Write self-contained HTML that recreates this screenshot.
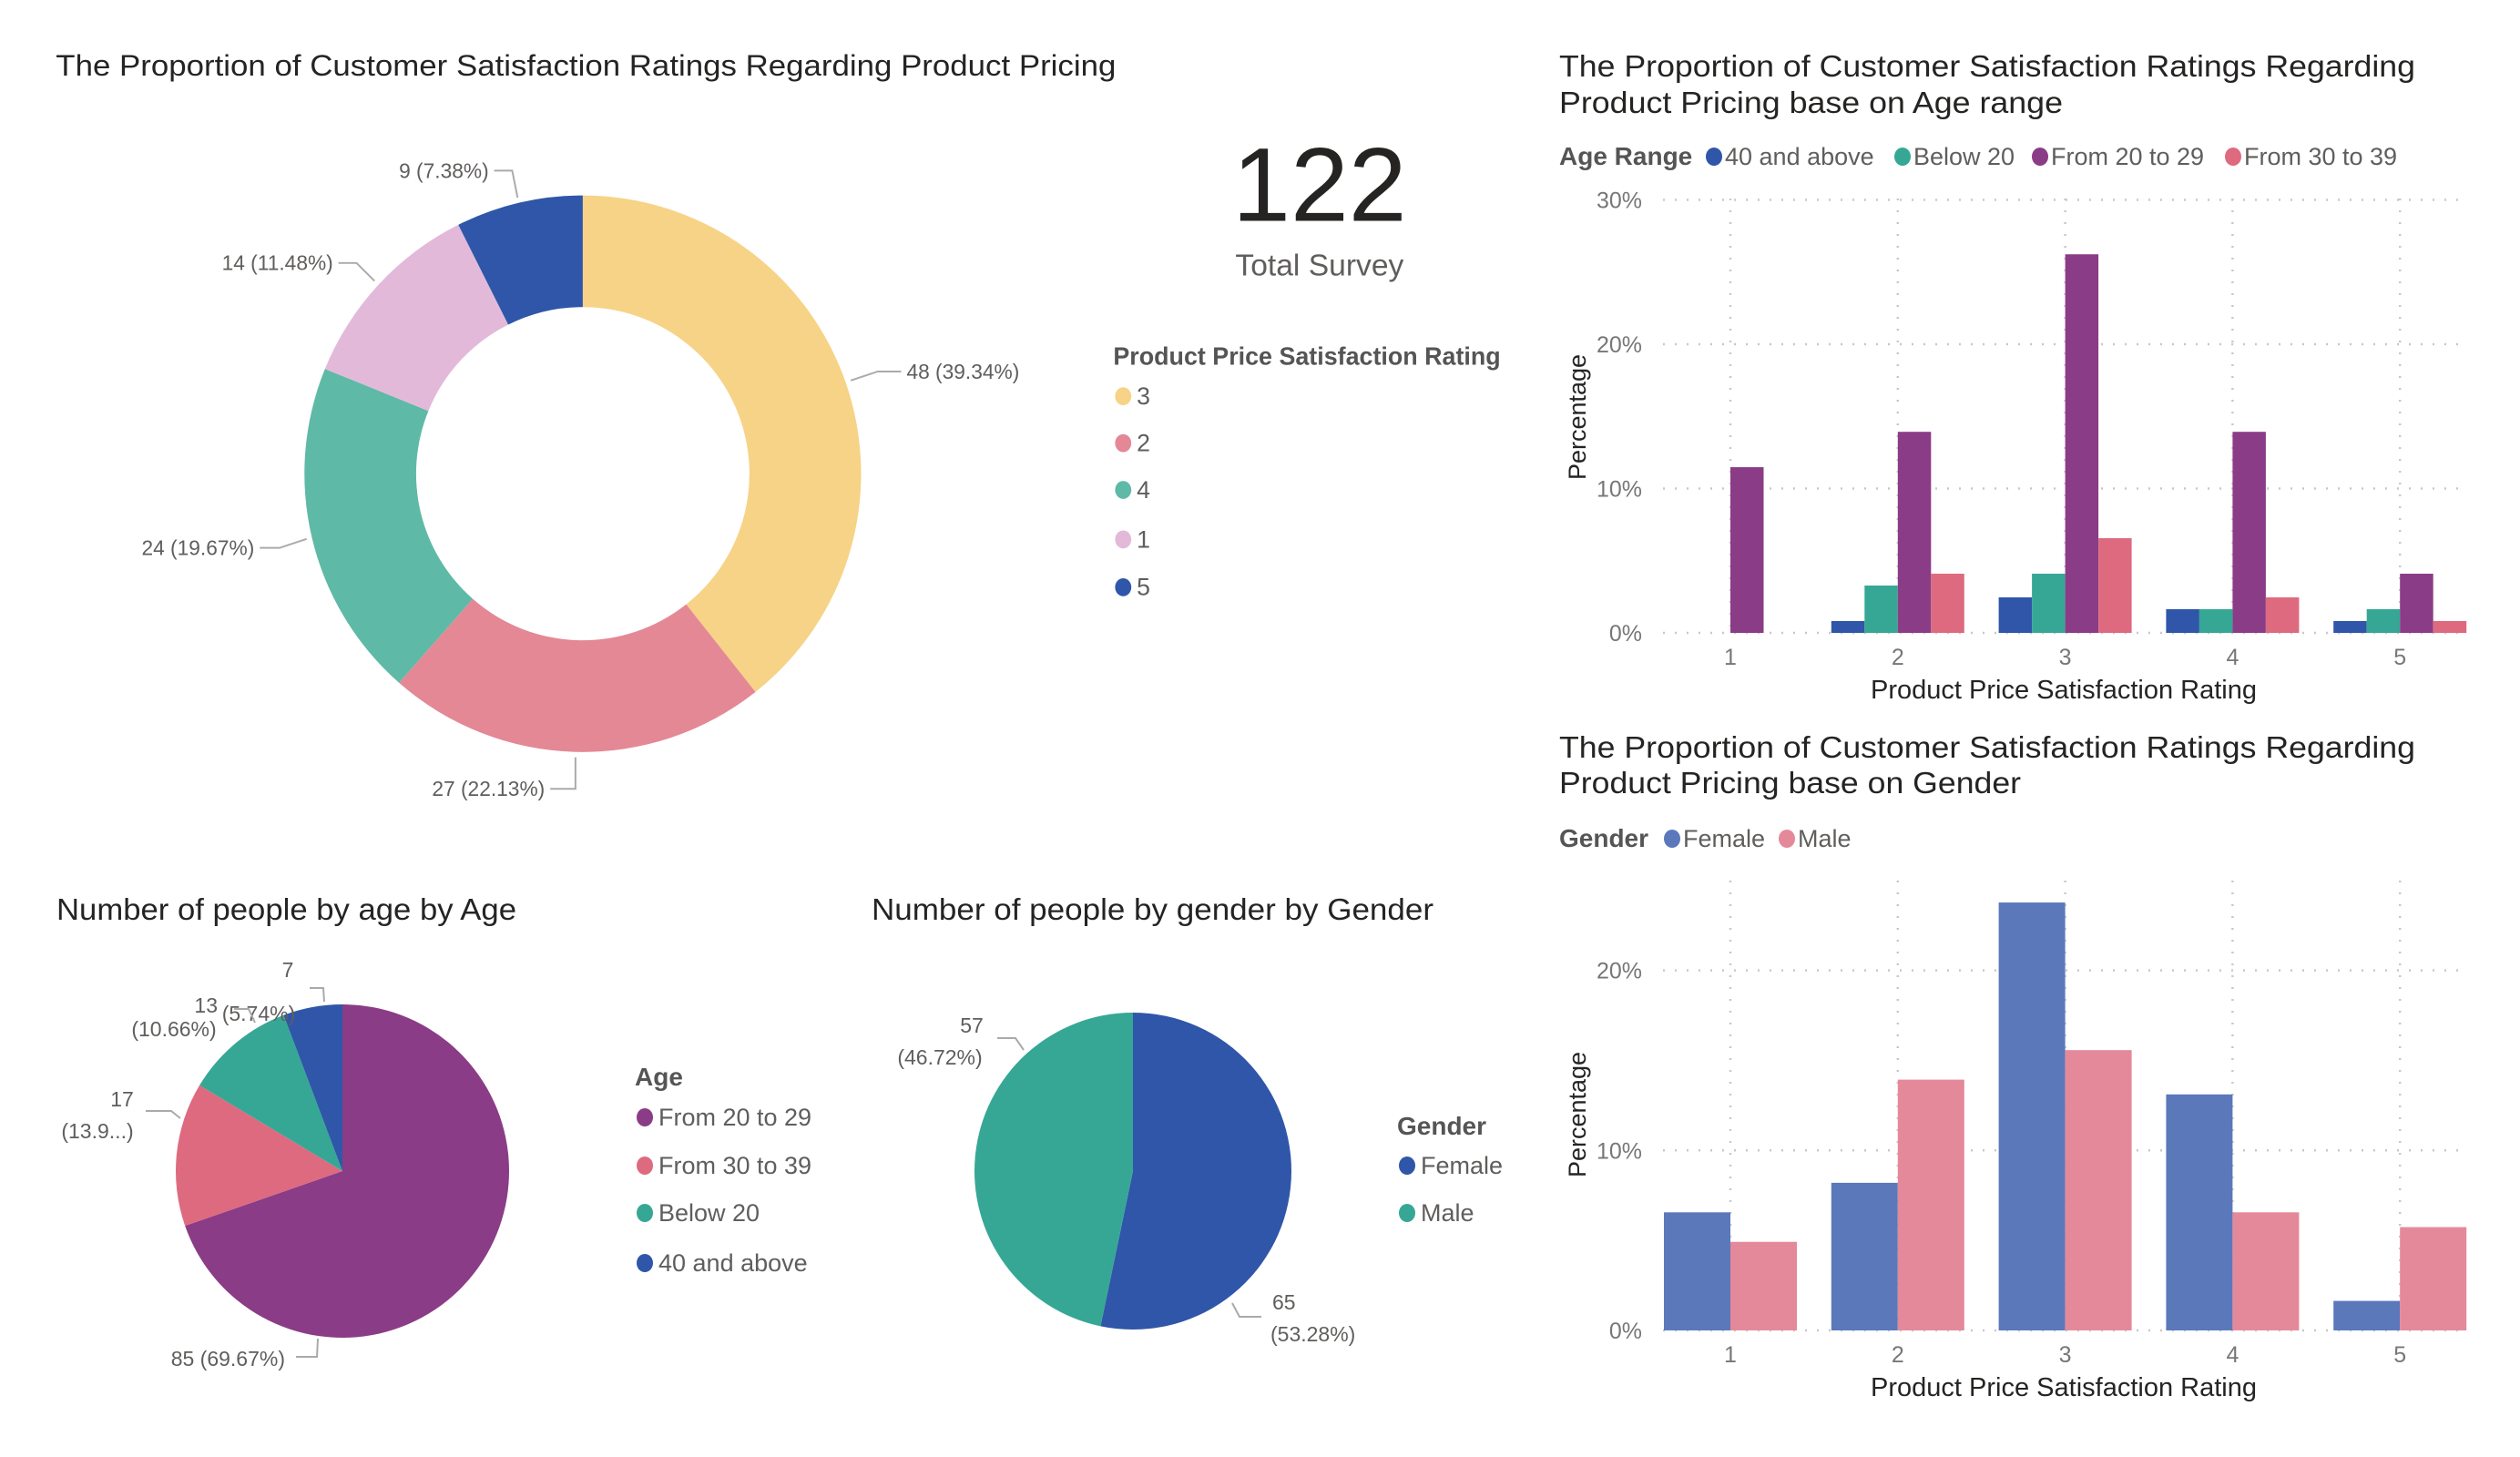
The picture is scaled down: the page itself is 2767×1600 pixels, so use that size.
<!DOCTYPE html>
<html><head><meta charset="utf-8"><style>
html,body{margin:0;padding:0;background:#fff;}
svg{display:block;font-family:"Liberation Sans Narrow","Liberation Sans",sans-serif;}
.ttl{font-size:33px;fill:#252423;}
.lbl{font-size:23px;fill:#605E5C;}
.tick{font-size:25px;fill:#777;}
.leg{font-size:27px;fill:#605E5C;}
.legt{font-size:28px;fill:#555;font-weight:bold;}
</style></head><body>
<svg id="dash" width="2767" height="1600" viewBox="0 0 2767 1600" xmlns="http://www.w3.org/2000/svg">
<g transform="scale(0.989)">
<g id="donut">
<text class="ttl" x="62" y="84" textLength="1177" lengthAdjust="spacingAndGlyphs">The Proportion of Customer Satisfaction Ratings Regarding Product Pricing</text>
</g>
<g>
<text x="1465" y="245" text-anchor="middle" font-size="116" fill="#252423">122</text>
<text x="1465" y="306" text-anchor="middle" font-size="34" fill="#605E5C">Total Survey</text>
</g>
<g id="donutLegend">
<text class="legt" x="1236" y="405" textLength="430" lengthAdjust="spacingAndGlyphs">Product Price Satisfaction Rating</text>
</g>
</g>
<g id="ageBars">
<text class="ttl" x="1712" y="84" textLength="940" lengthAdjust="spacingAndGlyphs">The Proportion of Customer Satisfaction Ratings Regarding</text>
<text class="ttl" x="1712" y="124" textLength="553" lengthAdjust="spacingAndGlyphs">Product Pricing base on Age range</text>
</g>
<g id="genderBars">
<text class="ttl" x="1712" y="832" textLength="940" lengthAdjust="spacingAndGlyphs">The Proportion of Customer Satisfaction Ratings Regarding</text>
<text class="ttl" x="1712" y="871" textLength="507" lengthAdjust="spacingAndGlyphs">Product Pricing base on Gender</text>
</g>
<g id="agePie" transform="translate(-5,0)">
<text class="ttl" x="67" y="1010" textLength="505" lengthAdjust="spacingAndGlyphs">Number of people by age by Age</text>
</g>
<g id="genderPie" transform="translate(-11,0)">
<text class="ttl" x="968" y="1010" textLength="617" lengthAdjust="spacingAndGlyphs">Number of people by gender by Gender</text>
</g>
</svg>
<script>
const NS="http://www.w3.org/2000/svg";
// Donut data
const ratingCats=["3","2","4","1","5"];
const ratingCounts=[48,27,24,14,9];
const ratingColors=["#F6D386","#E48896","#5FB9A7","#E3B9DA","#2F56A8"];
// Age pie data
const ageCats=["From 20 to 29","From 30 to 39","Below 20","40 and above"];
const ageCounts=[85,17,13,7];
const ageColors=["#8B3C86","#DE6A80","#36A795","#2F56A8"];
// Gender pie data
const genderCats=["Female","Male"];
const genderCounts=[65,57];
const genderPieColors=["#2F56A8","#36A795"];
// Age bar data (percent of total)
const barCats=["1","2","3","4","5"];
const ageSeriesNames=["40 and above","Below 20","From 20 to 29","From 30 to 39"];
const age40Vals=[0,0.82,2.46,1.64,0.82];
const ageBelow20Vals=[0,3.28,4.10,1.64,1.64];
const age2029Vals=[11.48,13.93,26.23,13.93,4.10];
const age3039Vals=[0,4.10,6.56,2.46,0.82];
const ageTicks=[0,10,20,30];
// Gender bar data
const femaleVals=[6.56,8.20,23.77,13.11,1.64];
const maleVals=[4.92,13.93,15.57,6.56,5.74];
const genderTicks=[0,10,20];
const genderBarColors=["#5B78BB","#E4899A"];

function mk(tag,attrs,parent,text){const e=document.createElementNS(NS,tag);for(const k in attrs)e.setAttribute(k,attrs[k]);if(text!==undefined)e.textContent=text;parent.appendChild(e);return e;}
function arcPath(cx,cy,r,r0,a0,a1){
  const p=(a,rr)=>[cx+rr*Math.sin(a),cy-rr*Math.cos(a)];
  const large=(a1-a0)>Math.PI?1:0;
  const [x0,y0]=p(a0,r),[x1,y1]=p(a1,r);
  if(r0>0){const [x2,y2]=p(a1,r0),[x3,y3]=p(a0,r0);
    return `M${x0},${y0}A${r},${r} 0 ${large} 1 ${x1},${y1}L${x2},${y2}A${r0},${r0} 0 ${large} 0 ${x3},${y3}Z`;}
  return `M${cx},${cy}L${x0},${y0}A${r},${r} 0 ${large} 1 ${x1},${y1}Z`;
}
function pie(g,cx,cy,r,r0,counts,colors,names,prefix){
  const tot=counts.reduce((a,b)=>a+b,0);let a=0;const mids=[];
  counts.forEach((c,i)=>{const a1=a+c/tot*2*Math.PI;
    const el=mk("path",{d:arcPath(cx,cy,r,r0,a,a1),fill:colors[i]},g);
    
    
    mids.push((a+a1)/2);a=a1;});
  return {mids,tot};
}
function leader(g,pts){const el=mk("polyline",{points:pts.map(p=>p.join(",")).join(" "),fill:"none",stroke:"#AAA","stroke-width":2},g);
  
  }
function label(g,x,y,txt,anchor){const t=mk("text",{class:"lbl",x:x,y:y,"text-anchor":anchor||"start"},g,txt);
  
  return t;}
function pct(c,t){return (c/t*100).toFixed(2)+"%";}

// Donut
(function(){
  const g=document.getElementById("donut");const cx=647,cy=526,R=309,r0=185;
  const {mids,tot}=pie(g,cx,cy,R,r0,ratingCounts,ratingColors,ratingCats,'rating');
  const lab=ratingCounts.map((c,i)=>c+" ("+pct(c,tot)+")");
  const P=(a,rr)=>[cx+rr*Math.sin(a),cy-rr*Math.cos(a)];
  let s=P(mids[0],R+6);leader(g,[s,[s[0]+30,s[1]-10],[s[0]+56,s[1]-10]]);label(g,s[0]+62,s[1]-2,lab[0]);
  s=P(mids[1],R+6);leader(g,[s,[s[0],s[1]+35],[s[0]-28,s[1]+35]]);label(g,s[0]-34,s[1]+43,lab[1],"end");
  s=P(mids[2],R+6);leader(g,[s,[s[0]-30,s[1]+10],[s[0]-52,s[1]+10]]);label(g,s[0]-58,s[1]+18,lab[2],"end");
  s=P(mids[3],R+6);leader(g,[s,[s[0]-20,s[1]-20],[s[0]-40,s[1]-20]]);label(g,s[0]-46,s[1]-12,lab[3],"end");
  s=P(mids[4],R+6);leader(g,[s,[s[0]-6,s[1]-30],[s[0]-26,s[1]-30]]);label(g,s[0]-32,s[1]-22,lab[4],"end");
  const lg=document.getElementById("donutLegend");const ys=[440,492,544,599,652];
  ratingCats.forEach((c,i)=>{const d=mk("ellipse",{cx:1247,cy:ys[i],rx:9,ry:10,fill:ratingColors[i]},lg);
    
    const t=mk("text",{class:"leg",x:1262,y:ys[i]+9},lg,c);
    });
})();

// Bar chart helper
function bars(gid,cfg){
  const g=document.getElementById(gid);
  const y=v=>cfg.y0-(v-0)*cfg.pxPer;
  const xC=i=>cfg.x0+i*cfg.step;
  cfg.ticks.forEach(t=>{const l=mk("line",{x1:1826,x2:2708,y1:y(t),y2:y(t),stroke:"#C8C8C8","stroke-width":2.5,"stroke-dasharray":"2 11"},g);
    
    const tx=mk("text",{class:"tick",x:1803,y:y(t)+9,"text-anchor":"end"},g,t+"%");
    });
  barCats.forEach((c,i)=>{const l=mk("line",{x1:xC(i),x2:xC(i),y1:cfg.top,y2:cfg.y0,stroke:"#C8C8C8","stroke-width":2.5,"stroke-dasharray":"2 11"},g);
    
    const t=mk("text",{class:"tick",x:xC(i),y:cfg.tickY,"text-anchor":"middle"},g,c);
    });
  const n=cfg.series.length,bw=146/n;
  cfg.series.forEach((vals,s)=>{vals.forEach((v,i)=>{if(v<=0)return;
    const r=mk("rect",{x:xC(i)-73+s*bw,y:y(v),width:bw,height:cfg.y0-y(v),fill:cfg.colors[s]},g);
    
    });});
  const xt=mk("text",{x:2266,y:cfg.titleY,"text-anchor":"middle","font-size":29,fill:"#252423"},g,"Product Price Satisfaction Rating");
  
  const yt=mk("text",{x:0,y:0,"text-anchor":"middle","font-size":27,fill:"#252423","font-family":"Liberation Sans, sans-serif",transform:`translate(1741,${cfg.yTitleY}) rotate(-90)`},g,"Percentage");
  
  const lt=mk("text",{class:"legt",x:1712,y:cfg.legY+9},g,cfg.legTitle);
  
  cfg.names.forEach((nm,s)=>{const d=mk("ellipse",{cx:cfg.legX[s],cy:cfg.legY,rx:9,ry:10,fill:cfg.colors[s]},g);
    
    const t=mk("text",{class:"leg",x:cfg.legX[s]+12,y:cfg.legY+9},g,nm);
    });
}
bars("ageBars",{y0:695,pxPer:15.85,top:218,x0:1900,step:183.8,ticks:ageTicks,tickY:730,titleY:767,yTitleY:458,
  series:[age40Vals,ageBelow20Vals,age2029Vals,age3039Vals],colors:["#2F56A8","#36A795","#8B3C86","#DE6A80"],
  names:ageSeriesNames,legTitle:"Age Range",legY:172,legX:[1882,2089,2240,2452]});
bars("genderBars",{y0:1461,pxPer:19.77,top:967,x0:1900,step:183.8,ticks:genderTicks,tickY:1496,titleY:1533,yTitleY:1224,
  series:[femaleVals,maleVals],colors:genderBarColors,names:genderCats,legTitle:"Gender",legY:921,legX:[1836,1962]});

// Age pie
(function(){
  const g=document.getElementById("agePie");const cx=381,cy=1286,R=183;
  const {tot}=pie(g,cx,cy,R,0,ageCounts,ageColors,ageCats,'age');
  leader(g,[[361,1100],[360,1085],[345,1085]]);label(g,321,1073,String(ageCounts[3]),"middle");label(g,289,1121,"("+pct(ageCounts[3],tot)+")","middle");
  leader(g,[[285,1123],[278,1108],[262,1108]]);label(g,244,1112,String(ageCounts[2]),"end");label(g,196,1138,"("+pct(ageCounts[2],tot)+")","middle");
  leader(g,[[203,1228],[193,1220],[165,1220]]);label(g,139,1215,String(ageCounts[1]),"middle");label(g,112,1250,"(13.9...)","middle");
  leader(g,[[354,1470],[353,1490],[330,1490]]);label(g,318,1500,ageCounts[0]+" ("+pct(ageCounts[0],tot)+")","end");
  const ys=[1227,1280,1332,1387];
  const lt=mk("text",{class:"legt",x:702,y:1192},g,"Age");
  ageCats.forEach((c,i)=>{const d=mk("ellipse",{cx:713,cy:ys[i],rx:9,ry:10,fill:ageColors[i]},g);
    
    const t=mk("text",{class:"leg",x:728,y:ys[i]+9},g,c);
    });
})();

// Gender pie
(function(){
  const g=document.getElementById("genderPie");const cx=1255,cy=1286,R=174;
  const {tot}=pie(g,cx,cy,R,0,genderCounts,genderPieColors,genderCats,'gender');
  leader(g,[[1135,1153],[1126,1140],[1106,1140]]);label(g,1078,1134,String(genderCounts[1]),"middle");label(g,1043,1169,"("+pct(genderCounts[1],tot)+")","middle");
  leader(g,[[1364,1431],[1372,1446],[1396,1446]]);label(g,1408,1438,String(genderCounts[0]),"start");label(g,1406,1473,"("+pct(genderCounts[0],tot)+")","start");
  const lt=mk("text",{class:"legt",x:1545,y:1246},g,"Gender");
  const ys=[1280,1332];
  genderCats.forEach((c,i)=>{const d=mk("ellipse",{cx:1556,cy:ys[i],rx:9,ry:10,fill:genderPieColors[i]},g);
    
    const t=mk("text",{class:"leg",x:1571,y:ys[i]+9},g,c);
    });
})();
</script>
</body></html>
